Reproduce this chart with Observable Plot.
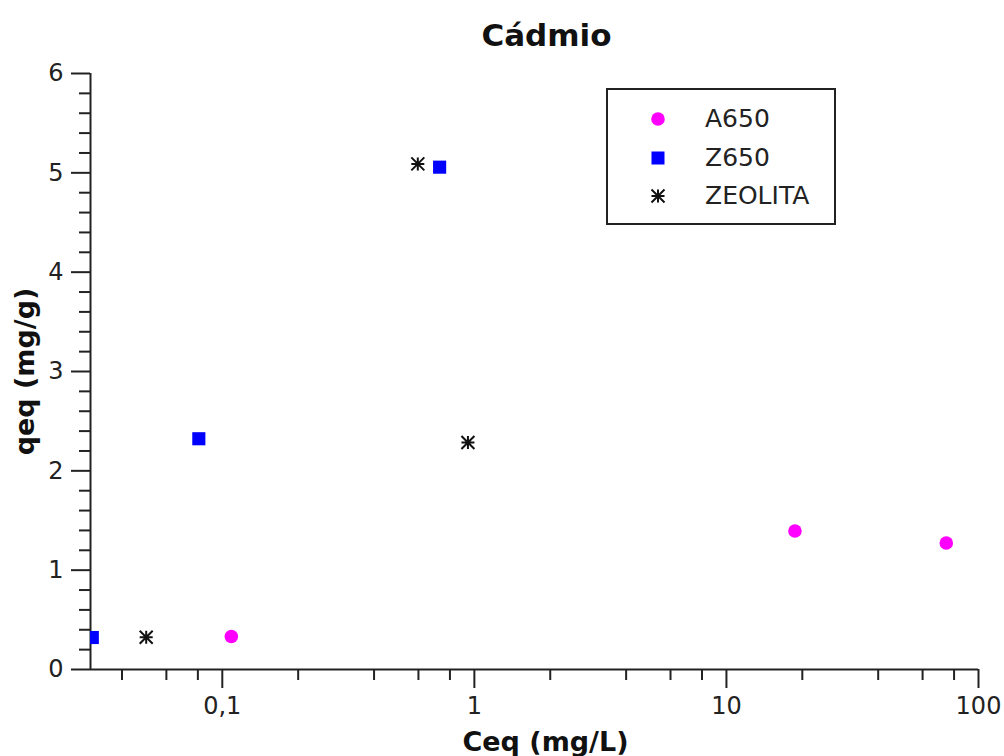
<!DOCTYPE html>
<html>
<head>
<meta charset="utf-8">
<script src="https://cdn.jsdelivr.net/npm/d3@7"></script>
<script src="https://cdn.jsdelivr.net/npm/@observablehq/plot@0.6"></script>
<style>
  html, body { margin: 0; padding: 0; background: #fff; }
  #chart { position: relative; width: 1004px; height: 756px; font-family: "DejaVu Sans", sans-serif; color: #222; }
  #chart svg g[aria-label$="tick label"] { font-size: 24px; }
  #legend { position: absolute; left: 606px; top: 88px; width: 226px; height: 133px; border: 2px solid #222; background: #fff; }
  .row { position: absolute; left: 0; height: 30px; width: 100%; }
  .row svg { position: absolute; left: 35px; top: 0; }
  .row span { position: absolute; left: 97px; top: 0; line-height: 30px; font-size: 25px; color: #222; }
</style>
</head>
<body>
<div id="chart"></div>
<script>
// Cadmium adsorption: equilibrium concentration (Ceq, mg/L) vs. uptake (qeq, mg/g)
const seriesNames = ["A650", "Z650", "ZEOLITA"];
const seriesColors = ["#ff00ff", "#0000ff", "#111111"];

const a650Ceq = [0.1086, 18.7, 74.5];
const a650Qeq = [0.332, 1.394, 1.274];

const z650Ceq = [0.0305, 0.0807, 0.728];
const z650Qeq = [0.322, 2.323, 5.057];

const zeolitaCeq = [0.0499, 0.5965, 0.943];
const zeolitaQeq = [0.325, 5.09, 2.285];

const xMajorTicks = [0.1, 1, 10, 100];
const xMajorLabels = ["0,1", "1", "10", "100"];
const xMinorTicks = [0.04, 0.06, 0.08, 0.2, 0.4, 0.6, 0.8, 2, 4, 6, 8, 20, 40, 60, 80];
const yMajorTicks = [0, 1, 2, 3, 4, 5, 6];
const yMinorTicks = d3.range(0, 6.001, 0.2).filter(v => Math.abs(v - Math.round(v)) > 1e-6);

const titleText = "Cádmio";
const xLabel = "Ceq (mg/L)";
const yLabel = "qeq (mg/g)";

// gnuplot-style "*" marker: a plus overlaid with a cross
const asterisk = {
  draw(context, size) {
    const h = Math.sqrt(size / Math.PI);
    context.moveTo(-h, 0); context.lineTo(h, 0);
    context.moveTo(0, -h); context.lineTo(0, h);
    context.moveTo(-h, -h); context.lineTo(h, h);
    context.moveTo(-h, h); context.lineTo(h, -h);
  }
};

const rows = (name, xs, ys) => xs.map((x, i) => ({series: name, ceq: x, qeq: ys[i]}));
const a650 = rows(seriesNames[0], a650Ceq, a650Qeq);
const z650 = rows(seriesNames[1], z650Ceq, z650Qeq);
const zeolita = rows(seriesNames[2], zeolitaCeq, zeolitaQeq);

const axisColor = "#222";

const plot = Plot.plot({
  width: 1004,
  height: 756,
  marginLeft: 90,
  marginRight: 26,
  marginTop: 73,
  marginBottom: 87,
  style: {fontFamily: "DejaVu Sans, sans-serif", fontSize: "24px", color: axisColor, background: "#fff"},
  x: {type: "log", domain: [0.03, 100]},
  y: {domain: [0, 6]},
  marks: [
    // minor ticks
    Plot.axisX({ticks: xMinorTicks, tickSize: 11, tickFormat: () => "", strokeWidth: 2, label: null}),
    Plot.axisY({ticks: yMinorTicks, tickSize: 11, tickFormat: () => "", strokeWidth: 2, label: null}),
    // major ticks with labels
    Plot.axisX({ticks: xMajorTicks, tickSize: 19, tickPadding: 8, strokeWidth: 2,
      tickFormat: d => xMajorLabels[xMajorTicks.indexOf(d)], fontSize: 24, label: null}),
    Plot.axisY({ticks: yMajorTicks, tickSize: 19, tickPadding: 8, strokeWidth: 2,
      tickFormat: d => String(d), fontSize: 24, label: null}),
    // axis lines
    Plot.ruleY([0], {stroke: axisColor, strokeWidth: 2}),
    Plot.ruleX([0.03], {stroke: axisColor, strokeWidth: 2}),
    // data
    Plot.dot(a650, {x: "ceq", y: "qeq", symbol: "circle", r: 6.8, fill: seriesColors[0], clip: true}),
    Plot.dot(z650, {x: "ceq", y: "qeq", symbol: "square", r: 7.4, fill: seriesColors[1], clip: true}),
    Plot.dot(zeolita, {x: "ceq", y: "qeq", symbol: asterisk, r: 6.5, stroke: seriesColors[2], strokeWidth: 2, fill: "none", clip: true}),
    // titles
    Plot.text([titleText], {frameAnchor: "top", dx: 12, dy: -28, lineAnchor: "bottom", textAnchor: "middle",
      fontSize: 31, fontWeight: "bold", fill: "#111"}),
    Plot.text([xLabel], {frameAnchor: "bottom", dx: 11, dy: 81, lineAnchor: "bottom", textAnchor: "middle",
      fontSize: 27, fontWeight: "bold", fill: "#111"}),
    Plot.text([yLabel], {frameAnchor: "left", dx: -57, rotate: -90, lineAnchor: "bottom", textAnchor: "middle",
      fontSize: 27, fontWeight: "bold", fill: "#111"})
  ]
});

const chart = document.getElementById("chart");
chart.appendChild(plot);

// Legend box built from the same series arrays
const legend = document.createElement("div");
legend.id = "legend";
const rowTops = [14, 53, 91];
seriesNames.forEach((name, i) => {
  const row = document.createElement("div");
  row.className = "row";
  row.style.top = rowTops[i] + "px";
  const sym = d3.create("svg").attr("width", 30).attr("height", 30);
  const g = sym.append("g").attr("transform", "translate(15,15)");
  if (i === 0) g.append("circle").attr("r", 6.8).attr("fill", seriesColors[0]);
  else if (i === 1) g.append("rect").attr("x", -6.5).attr("y", -6.5).attr("width", 13).attr("height", 13).attr("fill", seriesColors[1]);
  else g.append("path").attr("d", d3.symbol(asterisk, Math.PI * 6.5 * 6.5)()).attr("stroke", seriesColors[2]).attr("stroke-width", 2).attr("fill", "none");
  row.appendChild(sym.node());
  const label = document.createElement("span");
  label.textContent = name;
  row.appendChild(label);
  legend.appendChild(row);
});
chart.appendChild(legend);
</script>
</body>
</html>
